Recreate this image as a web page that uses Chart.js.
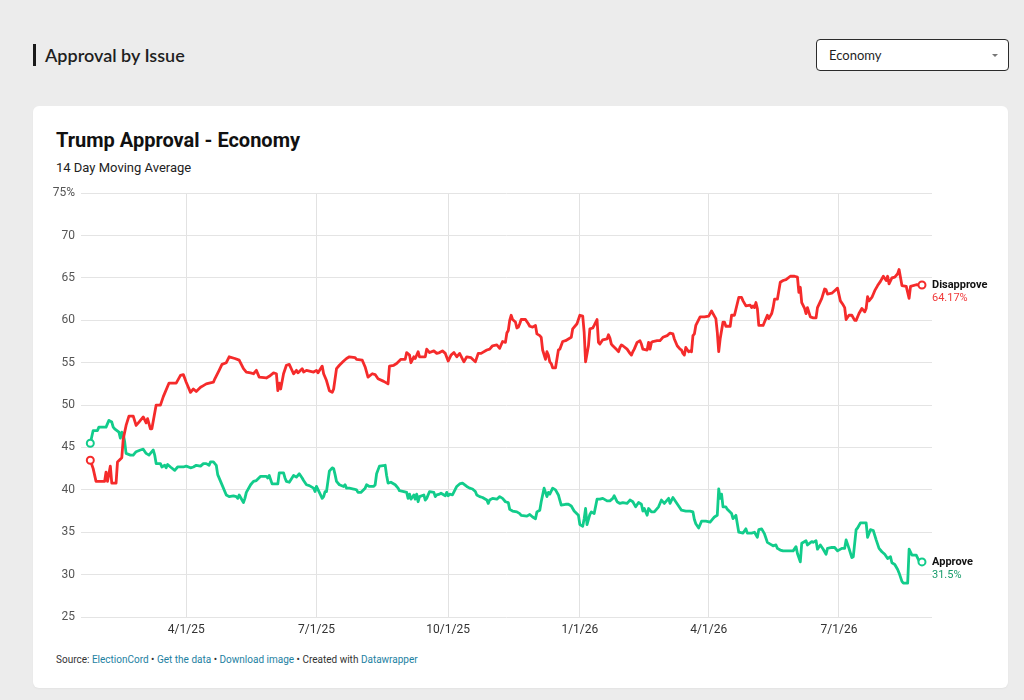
<!DOCTYPE html>
<html>
<head>
<meta charset="utf-8">
<title>Trump Approval - Economy</title>
<script src="https://cdn.jsdelivr.net/npm/chart.js@4.4.1/dist/chart.umd.min.js"></script>
<style>
  html, body { margin: 0; padding: 0; }
  body {
    width: 1024px; height: 700px; position: relative; overflow: hidden;
    background: #ececec; font-family: Roboto, sans-serif;
  }
  .section-title {
    position: absolute; left: 33px; top: 44px; height: 22px;
    border-left: 3px solid #1a1a1a; padding-left: 9px;
    font-family: Lato, sans-serif; font-size: 18px; font-weight: 600;
    line-height: 22px; color: #1f1f1f;
  }
  .select {
    position: absolute; left: 816px; top: 39px; width: 191px; height: 30px;
    background: #fff; border: 1px solid #2b2b2b; border-radius: 4px;
    font-family: Lato, sans-serif; font-size: 13px; color: #1f1f1f;
  }
  .select .value { position: absolute; left: 12px; top: 0; line-height: 31px; }
  .select .caret {
    position: absolute; right: 10px; top: 14px; width: 0; height: 0;
    border-left: 3px solid transparent; border-right: 3px solid transparent;
    border-top: 3px solid #777;
  }
  .card {
    position: absolute; left: 33px; top: 106px; width: 975px; height: 582px;
    background: #fff; border-radius: 6px; box-shadow: 0 1px 2px rgba(0,0,0,0.04);
  }
  .title {
    position: absolute; left: 56px; top: 127px; margin: 0;
    font-size: 20px; font-weight: 700; line-height: 26px; color: #111;
  }
  .subtitle {
    position: absolute; left: 56px; top: 160px;
    font-size: 13px; line-height: 16px; color: #222;
  }
  .footer {
    position: absolute; left: 56px; top: 653px;
    font-size: 10px; line-height: 14px; color: #333;
  }
  .footer a { color: #1d81a2; text-decoration: none; }
  #chart { position: absolute; left: 40px; top: 180px; }
</style>
</head>
<body>
<div class="section-title">Approval by Issue</div>
<div class="select"><span class="value">Economy</span><span class="caret"></span></div>
<div class="card"></div>
<h1 class="title">Trump Approval - Economy</h1>
<div class="subtitle">14 Day Moving Average</div>
<canvas id="chart" width="965" height="465"></canvas>
<div class="footer">Source: <a href="#">ElectionCord</a> • <a href="#">Get the data</a> • <a href="#">Download image</a> • Created with <a href="#">Datawrapper</a></div>

<script>
// x values are days counted from 1 Jan 2025
var tickDays = [90, 181, 273, 365, 455, 546];
var tickLabels = ['4/1/25', '7/1/25', '10/1/25', '1/1/26', '4/1/26', '7/1/26'];

var disapproveDays = [
  23, 25, 27, 33, 34, 35, 37, 38, 41, 42, 45, 46, 48, 50, 53, 55, 57, 60, 62, 63,
  65, 66, 69, 72, 74, 78, 83, 86, 88, 90, 93, 95, 97, 100, 102, 104, 109, 110, 113, 115,
  118, 120, 124, 127, 130, 132, 135, 137, 139, 141, 146, 148, 151, 153, 154, 155, 156, 158, 160, 162,
  165, 167, 168, 171, 172, 174, 179, 181, 182, 185, 186, 188, 190, 192, 193, 195, 197, 200, 202, 204,
  208, 209, 213, 215, 217, 220, 222, 224, 228, 231, 232, 235, 237, 240, 243, 244, 246, 247, 249, 250,
  252, 253, 257, 258, 260, 263, 265, 267, 269, 271, 273, 275, 277, 279, 281, 284, 286, 289, 292, 294,
  296, 300, 302, 304, 307, 309, 311, 313, 314, 315, 316, 317, 318, 320, 321, 322, 323, 324, 327, 329,
  330, 332, 334, 335, 337, 338, 339, 341, 342, 343, 344, 345, 346, 348, 350, 351, 353, 355, 357, 359,
  360, 363, 365, 367, 368, 369, 371, 372, 374, 375, 377, 378, 379, 381, 384, 385, 386, 387, 388, 391,
  392, 393, 394, 395, 398, 400, 401, 402, 403, 405, 407, 408, 409, 412, 413, 414, 415, 416, 419, 421,
  423, 426, 428, 430, 431, 433, 435, 436, 437, 438, 439, 441, 442, 443, 444, 445, 446, 449, 452, 455,
  457, 459, 460, 461, 462, 463, 465, 466, 467, 470, 471, 473, 476, 478, 479, 481, 484, 485, 486, 487,
  488, 489, 490, 493, 494, 496, 497, 499, 500, 501, 503, 505, 507, 509, 512, 515, 517, 518, 519, 520,
  522, 523, 524, 526, 528, 530, 531, 534, 536, 537, 538, 541, 543, 545, 547, 549, 550, 551, 553, 555,
  557, 558, 560, 562, 564, 565, 566, 567, 569, 571, 573, 575, 577, 579, 580, 581, 583, 585, 587, 588,
  590, 593, 595, 596, 600, 604
];
var disapproveValues = [
  43.5, 42.5, 41.0, 41.0, 42.1, 41.0, 42.8, 40.8, 40.8, 43.3, 43.8, 46.0, 47.6, 48.7, 48.7, 47.6, 48.0, 48.6, 47.9, 48.4,
  47.2, 47.2, 50.0, 50.0, 51.0, 52.6, 52.6, 53.5, 53.6, 52.7, 51.5, 51.9, 51.6, 52.1, 52.3, 52.5, 52.7, 53.1, 54.1, 54.8,
  55.0, 55.7, 55.5, 55.3, 54.3, 53.9, 53.8, 53.7, 54.1, 53.3, 53.2, 53.4, 53.8, 53.7, 51.7, 52.6, 51.9, 53.7, 54.7, 54.8,
  53.7, 54.1, 53.8, 54.3, 53.9, 54.1, 53.9, 54.1, 53.8, 54.6, 53.7, 52.9, 51.7, 51.5, 51.9, 54.3, 54.7, 55.2, 55.5, 55.7,
  55.6, 55.4, 55.3, 54.5, 53.3, 53.7, 53.6, 53.1, 52.8, 52.5, 54.6, 54.7, 54.9, 55.4, 55.4, 56.2, 55.9, 55.0, 55.7, 55.5,
  56.3, 55.7, 55.7, 56.6, 56.2, 56.4, 56.1, 56.2, 56.4, 56.1, 55.2, 55.9, 56.2, 55.7, 56.1, 55.1, 55.7, 55.6, 55.1, 56.1,
  56.1, 56.5, 56.6, 57.0, 57.1, 56.7, 57.5, 57.4, 58.5, 58.8, 60.0, 60.6, 60.1, 59.8, 59.1, 59.2, 59.6, 60.1, 60.1, 59.6,
  59.3, 59.2, 59.4, 58.4, 58.2, 58.0, 56.5, 55.4, 56.3, 55.9, 55.1, 54.9, 54.4, 54.4, 56.5, 56.6, 57.5, 57.6, 57.8, 58.0,
  59.0, 59.6, 60.6, 60.5, 58.6, 55.1, 57.0, 59.0, 59.1, 59.4, 60.1, 57.4, 57.2, 57.7, 57.8, 58.3, 57.9, 57.2, 57.0, 56.5,
  56.3, 56.8, 57.1, 57.0, 56.6, 56.1, 55.9, 56.3, 56.6, 57.4, 57.6, 57.2, 56.6, 56.5, 57.4, 56.6, 57.4, 57.5, 57.6, 57.6,
  58.0, 58.2, 58.5, 58.4, 57.8, 57.0, 56.6, 56.5, 56.1, 55.9, 56.8, 56.3, 56.4, 56.3, 58.2, 58.4, 59.4, 60.4, 60.4, 60.5,
  61.1, 60.5, 60.2, 58.6, 56.3, 57.8, 59.8, 59.8, 59.3, 59.3, 60.6, 60.6, 62.7, 62.7, 62.3, 61.7, 61.8, 61.5, 61.7, 61.5,
  62.1, 61.4, 59.4, 59.4, 59.8, 60.6, 60.2, 60.8, 61.5, 62.5, 62.5, 64.5, 64.7, 64.8, 65.2, 65.2, 65.1, 63.3, 63.9, 62.1,
  61.4, 60.8, 61.5, 60.4, 60.3, 60.3, 61.5, 62.6, 63.7, 63.6, 63.1, 63.2, 63.5, 63.8, 62.3, 61.8, 61.5, 60.1, 60.6, 60.6,
  60.0, 60.0, 60.8, 61.4, 61.0, 61.4, 62.8, 62.3, 62.7, 63.5, 64.1, 64.6, 65.2, 64.7, 65.2, 64.3, 65.0, 65.1, 65.5, 66.0,
  64.1, 64.0, 62.6, 64.0, 64.2, 64.17
];

var approveDays = [
  23, 25, 28, 29, 34, 36, 38, 39, 40, 43, 44, 45, 46, 47, 48, 51, 53, 55, 58, 60,
  62, 64, 66, 67, 68, 69, 72, 73, 75, 76, 77, 79, 82, 84, 88, 90, 93, 95, 97, 100,
  102, 104, 106, 107, 109, 111, 112, 114, 118, 120, 123, 125, 126, 127, 129, 130, 131, 132, 135, 137,
  139, 142, 146, 147, 148, 150, 154, 155, 158, 159, 160, 162, 165, 167, 169, 171, 172, 174, 176, 179,
  180, 181, 183, 185, 186, 187, 188, 189, 190, 192, 193, 194, 195, 197, 200, 201, 202, 204, 207, 209,
  210, 212, 215, 216, 218, 221, 222, 223, 225, 229, 230, 231, 233, 236, 238, 239, 242, 244, 245, 246,
  247, 249, 250, 251, 252, 253, 256, 257, 258, 260, 263, 264, 265, 267, 268, 271, 272, 273, 274, 276,
  279, 281, 283, 286, 288, 290, 292, 293, 295, 297, 300, 301, 302, 304, 307, 309, 311, 313, 315, 316,
  318, 321, 323, 324, 328, 330, 332, 334, 335, 337, 338, 340, 342, 343, 344, 346, 348, 350, 351, 352,
  355, 357, 359, 361, 364, 365, 367, 368, 369, 370, 372, 373, 375, 377, 379, 381, 384, 386, 388, 389,
  391, 393, 395, 398, 400, 402, 404, 406, 408, 409, 410, 412, 413, 415, 417, 420, 422, 424, 427, 428,
  430, 432, 434, 436, 439, 442, 444, 445, 446, 448, 450, 453, 456, 458, 459, 461, 462, 463, 464, 465,
  467, 468, 471, 472, 474, 476, 479, 481, 482, 485, 487, 489, 490, 492, 494, 496, 498, 500, 502, 503,
  505, 507, 509, 514, 516, 517, 519, 520, 523, 524, 527, 528, 530, 531, 533, 535, 537, 538, 541, 543,
  545, 548, 550, 551, 553, 555, 556, 558, 559, 561, 565, 566, 568, 570, 572, 574, 576, 578, 580, 582,
  583, 585, 587, 588, 590, 591, 594, 595, 597, 600, 602, 604
];
var approveValues = [
  45.5, 47.0, 47.0, 47.4, 47.4, 48.2, 48.0, 47.4, 47.2, 46.8, 46.1, 46.8, 46.6, 45.7, 44.3, 44.1, 44.1, 44.5, 44.7, 44.8,
  44.3, 44.1, 44.5, 44.7, 44.1, 43.1, 43.1, 42.7, 42.9, 42.6, 43.0, 42.7, 42.3, 42.7, 42.7, 42.8, 42.6, 42.7, 42.9, 42.8,
  43.1, 43.1, 42.9, 43.3, 43.3, 42.9, 41.8, 41.0, 39.4, 39.2, 39.3, 39.2, 39.0, 39.4, 38.8, 38.5, 39.0, 39.7, 40.6, 41.0,
  41.1, 41.6, 41.6, 41.4, 41.7, 40.7, 40.7, 42.0, 42.0, 41.4, 41.0, 40.9, 41.7, 41.5, 41.9, 41.4, 41.1, 40.6, 40.5, 40.2,
  39.8, 40.4, 39.7, 39.0, 39.2, 39.8, 39.8, 41.0, 42.2, 42.6, 42.5, 41.8, 41.0, 40.6, 40.4, 40.6, 40.2, 40.2, 40.1, 40.0,
  39.7, 39.7, 40.2, 40.6, 40.4, 40.4, 40.6, 41.9, 42.8, 42.9, 41.7, 40.8, 40.9, 40.6, 40.2, 39.9, 39.8, 39.7, 39.0, 39.5,
  38.9, 39.4, 38.9, 39.5, 38.6, 39.2, 39.4, 38.8, 39.0, 39.8, 39.7, 39.2, 39.4, 39.5, 39.6, 39.3, 39.7, 39.3, 39.5, 39.4,
  40.4, 40.7, 40.8, 40.4, 40.2, 40.1, 39.8, 39.4, 39.2, 39.1, 38.8, 38.4, 38.8, 39.0, 38.9, 39.2, 39.0, 38.6, 38.5, 37.7,
  37.5, 37.4, 37.2, 37.0, 36.9, 37.1, 36.8, 36.6, 37.4, 37.6, 38.6, 40.2, 39.2, 39.7, 39.5, 40.2, 40.0, 39.4, 38.8, 38.2,
  38.3, 38.3, 38.1, 37.5, 37.0, 35.9, 35.7, 36.6, 37.8, 35.9, 37.1, 37.4, 37.2, 38.9, 38.9, 39.0, 38.7, 38.7, 39.0, 39.3,
  38.6, 38.4, 38.5, 38.4, 38.8, 38.6, 38.0, 38.5, 38.3, 37.5, 37.8, 37.0, 37.8, 37.4, 37.4, 38.0, 38.8, 38.4, 39.0, 38.4,
  39.1, 38.6, 38.1, 37.6, 37.5, 37.5, 37.4, 36.5, 36.0, 35.5, 36.3, 36.3, 36.2, 36.6, 36.8, 37.0, 40.1, 39.0, 39.5, 38.0,
  38.0, 37.7, 37.2, 36.6, 37.0, 35.0, 34.9, 35.4, 34.9, 34.9, 35.0, 34.4, 35.3, 35.4, 34.8, 33.8, 33.6, 33.4, 33.5, 33.1,
  32.9, 32.8, 32.8, 32.8, 33.3, 32.5, 31.5, 33.7, 34.0, 33.5, 33.9, 33.8, 34.0, 33.0, 33.5, 33.0, 32.4, 33.1, 33.2, 33.2,
  32.8, 33.1, 33.1, 34.1, 33.1, 32.0, 32.1, 35.3, 35.5, 36.1, 36.1, 34.4, 35.3, 35.2, 34.1, 33.1, 32.7, 32.4, 31.9, 32.1,
  31.4, 31.2, 30.6, 30.2, 29.2, 29.0, 29.0, 33.0, 32.3, 32.3, 31.6, 31.5
];

var disapproveColor = '#f52b2b';
var approveColor = '#12cc8b';

function toPoints(days, values) {
  return days.map(function(d, i) { return { x: d, y: values[i] }; });
}

// hollow circle only on the first and last point of each line
function endPointRadius(ctx) {
  var n = ctx.dataset.data.length;
  return (ctx.dataIndex === 0 || ctx.dataIndex === n - 1) ? 3.5 : 0;
}

// series name and last value printed right of each line end
var endLabels = {
  id: 'endLabels',
  afterDatasetsDraw: function(chart) {
    var ctx = chart.ctx;
    chart.data.datasets.forEach(function(ds, i) {
      var meta = chart.getDatasetMeta(i);
      var pt = meta.data[meta.data.length - 1];
      var last = ds.data[ds.data.length - 1].y;
      ctx.save();
      ctx.textBaseline = 'middle';
      ctx.textAlign = 'left';
      ctx.font = 'bold 11px Roboto';
      ctx.fillStyle = '#111';
      ctx.fillText(ds.label, pt.x + 10, pt.y);
      ctx.font = '11px Roboto';
      ctx.fillStyle = ds.valueColor;
      ctx.fillText(last + '%', pt.x + 10, pt.y + 13);
      ctx.restore();
    });
  }
};

Chart.defaults.font.family = 'Roboto';

new Chart(document.getElementById('chart').getContext('2d'), {
  type: 'line',
  data: {
    datasets: [
      {
        label: 'Disapprove',
        data: toPoints(disapproveDays, disapproveValues),
        borderColor: disapproveColor,
        backgroundColor: '#fff',
        valueColor: '#f0393a',
        borderWidth: 2.8,
        borderJoinStyle: 'round',
        pointRadius: endPointRadius,
        pointBorderWidth: 2,
        pointBackgroundColor: '#fff',
        pointBorderColor: disapproveColor,
        tension: 0
      },
      {
        label: 'Approve',
        data: toPoints(approveDays, approveValues),
        borderColor: approveColor,
        backgroundColor: '#fff',
        valueColor: '#179b6a',
        borderWidth: 2.8,
        borderJoinStyle: 'round',
        pointRadius: endPointRadius,
        pointBorderWidth: 2,
        pointBackgroundColor: '#fff',
        pointBorderColor: approveColor,
        tension: 0
      }
    ]
  },
  options: {
    responsive: false,
    animation: false,
    events: [],
    layout: { padding: { top: 12, right: 73, left: 0, bottom: 0 } },
    plugins: {
      legend: { display: false },
      tooltip: { enabled: false }
    },
    scales: {
      x: {
        type: 'linear',
        min: 16.5,
        max: 611,
        afterBuildTicks: function(scale) {
          scale.ticks = tickDays.map(function(v) { return { value: v }; });
        },
        afterFit: function(scale) { scale.height = 28; },
        border: { display: false },
        grid: { color: '#e2e2e2', drawTicks: false },
        ticks: {
          padding: 6,
          maxRotation: 0,
          color: '#333',
          font: { size: 12 },
          callback: function(value) { return tickLabels[tickDays.indexOf(value)]; }
        }
      },
      y: {
        min: 25,
        max: 75,
        afterFit: function(scale) { scale.width = 41; },
        border: { display: false },
        grid: { color: '#e4e4e4', drawTicks: false },
        ticks: {
          stepSize: 5,
          padding: 6,
          color: '#555',
          font: { size: 12 },
          callback: function(value) { return value === 75 ? '75%' : value; }
        }
      }
    }
  },
  plugins: [endLabels]
});
</script>
</body>
</html>
